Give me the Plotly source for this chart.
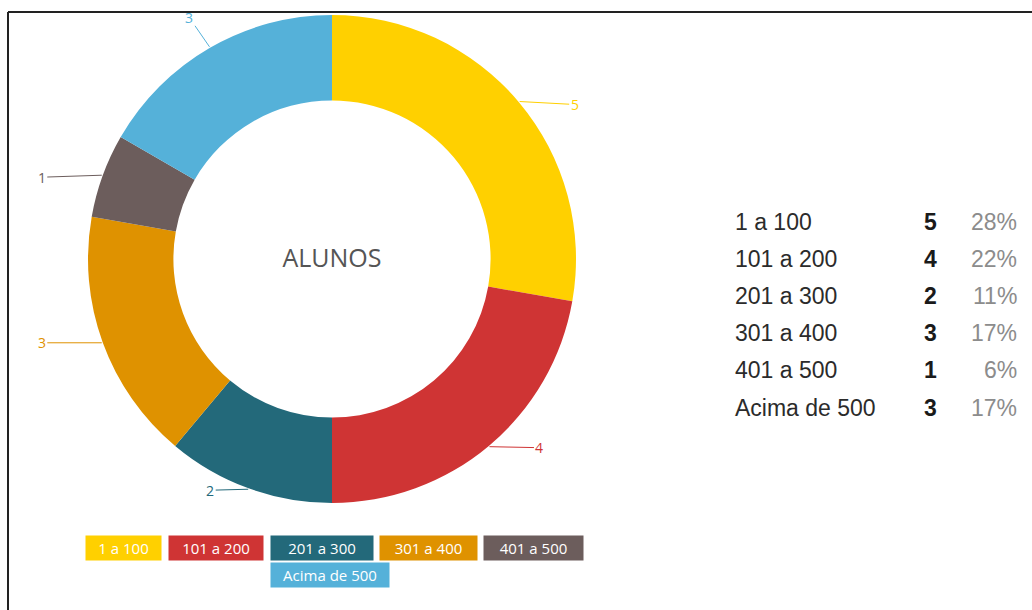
import math
import plotly.graph_objects as go

# ---- data ----
categories = ["1 a 100", "101 a 200", "201 a 300", "301 a 400", "401 a 500", "Acima de 500"]
counts = [5, 4, 2, 3, 1, 3]
center_title = "ALUNOS"

# ---- style ----
colors = ["#FFD000", "#CF3434", "#23697A", "#DF9200", "#6C5D5C", "#55B1D9"]
W, H = 1032, 610
CX, CY, R = 332, 259, 244          # pie centre / radius in pixels
label_offsets = [(55, 3), (50, 1), (-38, 1), (-60, 0), (-60, 2), (-20, -29)]
legend_rows = [0, 0, 0, 0, 0, 1]
legend_x = [85, 168, 270, 379, 483, 270]
legend_w = [75, 94, 102, 97, 99, 118]
TABLE_TOP, TABLE_STEP = 222, 37.1
COL_LABEL, COL_NUM, COL_PCT = 733, 930, 1019

total = sum(counts)
pcts = [f"{round(v / total * 100)}%" for v in counts]

fig = go.Figure()

fig.add_trace(go.Pie(
    labels=categories, values=counts, sort=False, direction="clockwise",
    rotation=0, hole=0.65, textinfo="none", hoverinfo="skip", showlegend=False,
    marker=dict(colors=colors, line=dict(width=0)),
    domain=dict(x=[(CX - R) / W, (CX + R) / W], y=[1 - (CY + R) / H, 1 - (CY - R) / H]),
    title=dict(text=center_title, position="middle center",
               font=dict(family="Open Sans", size=25, color="#555555")),
))

# outside value labels with leader lines, positioned from the data
cum = 0
for i, v in enumerate(counts):
    mid = (cum + v / 2) / total * 2 * math.pi
    cum += v
    px = CX + (R + 1) * math.sin(mid)
    py = CY - (R + 1) * math.cos(mid)
    ax, ay = label_offsets[i]
    fig.add_annotation(
        x=px / W, y=1 - py / H, xref="paper", yref="paper",
        text=str(v), showarrow=True, arrowhead=0, arrowwidth=1,
        arrowcolor=colors[i], ax=ax, ay=ay,
        font=dict(family="Open Sans", size=14, color=colors[i]),
    )

# badge legend
for i, cat in enumerate(categories):
    yc = 548 if legend_rows[i] == 0 else 575
    fig.add_annotation(
        x=legend_x[i] / W, y=1 - yc / H, xref="paper", yref="paper",
        xanchor="left", yanchor="middle", showarrow=False,
        text=cat, width=legend_w[i] - 4, height=20, borderpad=2,
        bgcolor=colors[i], align="center",
        font=dict(family="Open Sans", size=15, color="white"),
    )

# summary table at right
for i, (cat, v, p) in enumerate(zip(categories, counts, pcts)):
    yy = 1 - (TABLE_TOP + TABLE_STEP * i) / H
    common = dict(y=yy, xref="paper", yref="paper", yanchor="middle", showarrow=False)
    fig.add_annotation(x=COL_LABEL / W, xanchor="left", text=cat,
                       font=dict(family="Liberation Sans", size=23, color="#2b2b2b"), **common)
    fig.add_annotation(x=COL_NUM / W, xanchor="center", text=f"<b>{v}</b>",
                       font=dict(family="Liberation Sans", size=23, color="#1a1a1a"), **common)
    fig.add_annotation(x=COL_PCT / W, xanchor="right", text=p,
                       font=dict(family="Liberation Sans", size=23, color="#8c8c8c"), **common)

# frame
fig.add_shape(type="line", xref="paper", yref="paper",
              x0=8 / W, y0=0, x1=8 / W, y1=1 - 12 / H,
              line=dict(color="#222222", width=2))
fig.add_shape(type="line", xref="paper", yref="paper",
              x0=8 / W, y0=1 - 12 / H, x1=1, y1=1 - 12 / H,
              line=dict(color="#222222", width=2))

fig.update_layout(
    width=W, height=H, margin=dict(l=0, r=0, t=0, b=0),
    paper_bgcolor="white", plot_bgcolor="white",
)

fig.write_html("out.html", config={"displayModeBar": False},
               post_script="document.body.style.margin='0';document.body.style.overflow='hidden';")
